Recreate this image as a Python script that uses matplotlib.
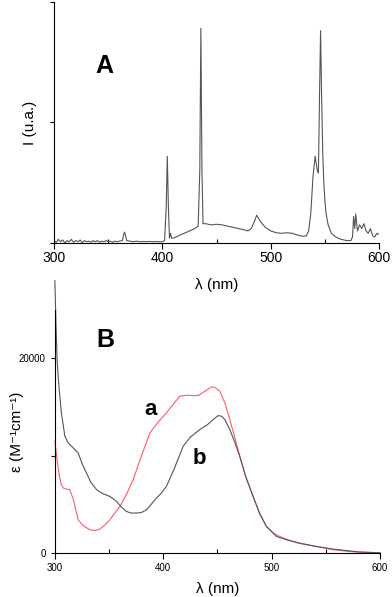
import matplotlib.pyplot as plt
from matplotlib.ticker import MultipleLocator

plt.rcParams['font.family'] = ['Liberation Sans', 'DejaVu Sans']

# spectre de la lampe (A)
wl_lamp = [300, 302, 304, 306, 308, 310, 312, 314, 316, 318, 320, 322, 324, 326,
           328, 330, 332, 334, 336, 338, 340, 342, 344, 346, 348, 350, 352, 354,
           356, 358, 360, 363, 364, 365, 366, 367, 370, 373, 376, 379, 382, 385,
           388, 391, 394, 397, 400, 402, 403.5, 404.5, 405.5, 406.5, 407.5, 408.5,
           410, 415, 420, 425, 430, 433, 434.5, 435.5, 436.5, 437.5, 440, 445, 450,
           455, 460, 465, 470, 475, 479, 482, 485, 487, 489, 492, 495, 500, 505,
           510, 515, 520, 525, 530, 533, 535, 537, 539, 541, 543, 544, 545, 546,
           547, 548, 549, 550, 551, 553, 556, 560, 565, 570, 574, 575.5, 576.5,
           577.5, 578.5, 580, 582, 584, 586, 588, 590, 592, 594, 596, 598, 600]
I_lamp = [0.02, 0.005, 0.03, 0.01, 0.025, 0.0, 0.02, 0.01, 0.03, 0.005, 0.02,
          0.01, 0.025, 0.0, 0.02, 0.01, 0.015, 0.005, 0.02, 0.01, 0.02, 0.005,
          0.015, 0.01, 0.02, 0.01, 0.015, 0.005, 0.015, 0.01, 0.015, 0.02, 0.06,
          0.09, 0.06, 0.02, 0.015, 0.01, 0.015, 0.01, 0.012, 0.01, 0.013, 0.01,
          0.012, 0.01, 0.01, 0.02, 0.3, 0.72, 0.3, 0.04, 0.08, 0.04, 0.04, 0.06,
          0.08, 0.1, 0.12, 0.14, 0.6, 1.78, 0.6, 0.16, 0.16, 0.15, 0.155, 0.15,
          0.14, 0.13, 0.12, 0.11, 0.1, 0.12, 0.18, 0.23, 0.2, 0.16, 0.13, 0.1,
          0.085, 0.08, 0.085, 0.08, 0.065, 0.055, 0.06, 0.1, 0.25, 0.55, 0.72, 0.6,
          0.58, 1.2, 1.76, 1.2, 0.75, 0.5, 0.35, 0.25, 0.15, 0.08, 0.05, 0.03,
          0.02, 0.02, 0.05, 0.22, 0.12, 0.24, 0.1, 0.15, 0.12, 0.16, 0.1, 0.08,
          0.12, 0.06, 0.05, 0.08, 0.07]

# absorption (B)
wl_a = [300, 302, 304, 306, 307.7, 311, 313.8, 317, 321.5, 326, 332.3, 337,
        341.5, 346, 350.8, 355, 360, 366, 372.3, 380, 387.7, 395, 403, 410,
        415.4, 421.5, 427, 432.3, 438.5, 444.6, 448, 452.3, 457, 461.5, 466,
        470.7, 476, 483, 489, 495.3, 502, 510.8, 525, 541.5, 557, 572.3, 585, 600]
eps_a = [11480, 9600, 8000, 7000, 6670, 6550, 6500, 5500, 3400, 2800, 2370, 2300,
         2440, 2850, 3400, 4050, 4770, 6000, 7530, 10000, 12340, 13400, 14400,
         15400, 16110, 16220, 16180, 16190, 16630, 17080, 17000, 16630, 15400,
         13710, 11900, 9930, 7900, 5800, 4050, 2710, 2000, 1510, 980, 650, 320,
         130, 40, 0]

wl_b = [300, 301, 302, 303, 304, 306, 309.2, 312.3, 316, 321.5, 325, 329.2, 333,
        338.5, 344, 350.8, 357, 361, 366, 370, 375.4, 380, 384.6, 389, 393.8,
        398, 403, 410, 418.4, 425, 433.8, 441, 446, 450.7, 454, 457, 461.5, 466,
        470.7, 476, 483, 489, 495.3, 504.6, 515, 526, 540, 557, 580, 600]
eps_b = [28000, 23500, 20000, 18200, 16800, 14400, 12000, 11300, 10900, 10280,
         9200, 8200, 7300, 6500, 6100, 5800, 5290, 4750, 4260, 4100, 4090, 4150,
         4430, 5000, 5640, 6100, 6840, 8600, 10960, 11900, 12680, 13200, 13700,
         14120, 14050, 13700, 12680, 11400, 9930, 7900, 5800, 4050, 2710, 1680,
         1300, 1000, 680, 380, 100, 0]

fig = plt.figure(figsize=(3.92, 5.97), dpi=100)
axA = fig.add_axes([0.138, 0.593, 0.829, 0.404])
axB = fig.add_axes([0.140, 0.074, 0.829, 0.407])

for ax in (axA, axB):
    ax.spines['top'].set_visible(False)
    ax.spines['right'].set_visible(False)
    ax.set_xlim(300, 600)
    ax.xaxis.set_major_locator(MultipleLocator(100))
    ax.xaxis.set_minor_locator(MultipleLocator(50))
    ax.tick_params(axis='x', which='major', direction='out', length=4, width=0.8)
    ax.tick_params(axis='x', which='minor', direction='in', length=3, width=0.8)
    ax.tick_params(axis='y', direction='out', length=3, width=0.8)

# A
axA.plot(wl_lamp, I_lamp, color='#555555', lw=0.8)
axA.set_ylim(0, 2)
axA.set_yticks([0, 1, 2])
axA.set_yticklabels([])
axA.tick_params(axis='x', labelsize=10, pad=2)
axA.set_xlabel('λ (nm)', fontsize=11, labelpad=9)
axA.set_ylabel('I (u.a.)', fontsize=11, va='center')
axA.yaxis.set_label_coords(-0.074, 0.5)
axA.text(0.155, 0.735, 'A', transform=axA.transAxes, fontsize=18,
         fontweight='bold', ha='center', va='center')

# B
axB.plot(wl_a, eps_a, color='#ff5a6e', lw=0.8, clip_on=False)
axB.plot(wl_b, eps_b, color='#555555', lw=0.8, clip_on=False)
axB.set_ylim(0, 25000)
axB.set_yticks([0, 10000, 20000])
axB.set_yticklabels(['0', '', '20000'])
axB.tick_params(axis='both', labelsize=7)
axB.set_xlabel('λ (nm)', fontsize=11, labelpad=6)
axB.set_ylabel('ε (M⁻¹cm⁻¹)', fontsize=11, va='center')
axB.yaxis.set_label_coords(-0.117, 0.5)
axB.text(0.155, 0.875, 'B', transform=axB.transAxes, fontsize=18,
         fontweight='bold', ha='center', va='center')
axB.text(0.295, 0.59, 'a', transform=axB.transAxes, fontsize=16,
         fontweight='bold', ha='center', va='center')
axB.text(0.445, 0.39, 'b', transform=axB.transAxes, fontsize=16,
         fontweight='bold', ha='center', va='center')

fig.savefig('out.png', dpi=100)
